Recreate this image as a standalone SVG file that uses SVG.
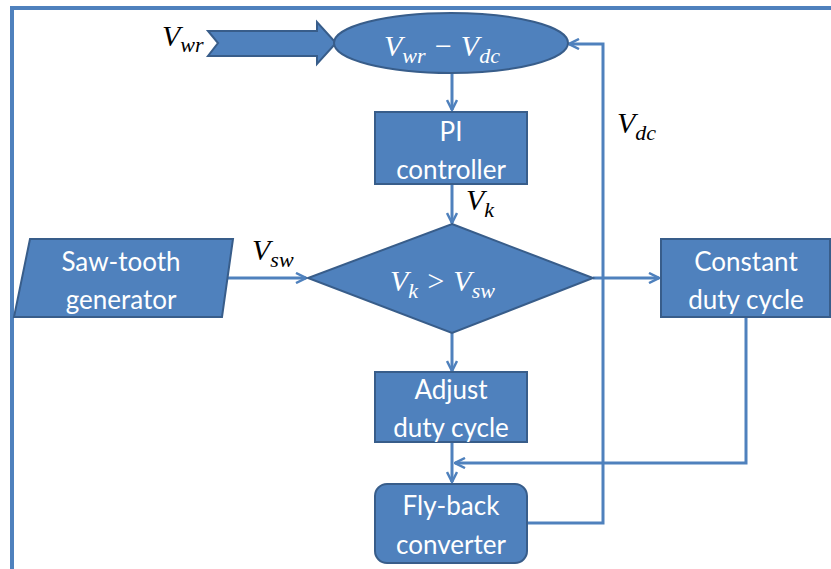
<svg xmlns="http://www.w3.org/2000/svg" width="831" height="569" viewBox="0 0 831 569">
<defs>
<style>
.shape{fill:#4F81BD;stroke:#385D8A;stroke-width:2}
.conn{fill:none;stroke:#4F81BD;stroke-width:3}
.lbl{font-family:Lato,"Open Sans",sans-serif;font-size:26px;fill:#fff;text-anchor:middle}
.m{font-family:"Liberation Serif","DejaVu Serif",serif;font-style:italic;font-size:30px}
.mw{fill:#fff}
.mb{fill:#000}
.sub{font-size:22px}
</style>
<marker id="ah" viewBox="0 0 12 12" refX="11" refY="6" markerWidth="12" markerHeight="12" markerUnits="userSpaceOnUse" orient="auto">
<path d="M1,1 L11,6 L1,11" fill="none" stroke="#4F81BD" stroke-width="2.5"/>
</marker>
</defs>
<rect width="831" height="569" fill="#fff"/>
<g id="frame">
<path d="M12,569 L12,8 L831,8" fill="none" stroke="#4F81BD" stroke-width="4"/>
</g>
<g id="connectors">
<path class="conn" d="M452,72 L452,110" marker-end="url(#ah)"/>
<path class="conn" d="M452,185 L452,223" marker-end="url(#ah)"/>
<path class="conn" d="M225,278 L306,278" marker-end="url(#ah)"/>
<path class="conn" d="M593,278 L659,278" marker-end="url(#ah)"/>
<path class="conn" d="M452,333 L452,371" marker-end="url(#ah)"/>
<path class="conn" d="M452,442 L452,482" marker-end="url(#ah)"/>
<path class="conn" d="M746,318 L746,463 L455,463" marker-end="url(#ah)"/>
<path class="conn" d="M527,523 L603,523 L603,44 L569,44" marker-end="url(#ah)"/>
</g>
<g id="input-arrow">
<path class="shape" d="M208,31 L317,31 L317,22 L336,43 L317,64 L317,56 L208,56 L218,43 Z"/>
<text class="m mb" x="162" y="46">V<tspan class="sub" dy="6">wr</tspan></text>
</g>
<g id="sum">
<ellipse class="shape" cx="451" cy="43" rx="117" ry="30"/>
<text class="m mw" x="384" y="56">V<tspan class="sub" dy="7">wr</tspan><tspan dy="-7"> − V</tspan><tspan class="sub" dy="7">dc</tspan></text>
</g>
<g id="pi">
<rect class="shape" x="375" y="112" width="152" height="72"/>
<text class="lbl" x="451" y="141">PI</text>
<text class="lbl" x="451" y="179">controller</text>
</g>
<g id="vk-label">
<text class="m mb" x="466" y="210">V<tspan class="sub" dy="7">k</tspan></text>
</g>
<g id="sawtooth">
<path class="shape" d="M30,239 L233,239 L222,317 L14,317 Z"/>
<text class="lbl" x="121" y="271">Saw-tooth</text>
<text class="lbl" x="121" y="309">generator</text>
</g>
<g id="vsw-label">
<text class="m mb" x="252" y="260">V<tspan class="sub" dy="7">sw</tspan></text>
</g>
<g id="compare">
<path class="shape" d="M452,224 L593,278 L452,333 L308,278 Z"/>
<text class="m mw" x="390" y="291">V<tspan class="sub" dy="7">k</tspan><tspan dy="-7"> &gt; V</tspan><tspan class="sub" dy="7">sw</tspan></text>
</g>
<g id="constant">
<rect class="shape" x="661" y="239" width="169" height="78"/>
<text class="lbl" x="746" y="271">Constant</text>
<text class="lbl" x="746" y="309">duty cycle</text>
</g>
<g id="adjust">
<rect class="shape" x="375" y="372" width="152" height="70"/>
<text class="lbl" x="451" y="399">Adjust</text>
<text class="lbl" x="451" y="437">duty cycle</text>
</g>
<g id="flyback">
<rect class="shape" x="375" y="484" width="152" height="79" rx="12"/>
<text class="lbl" x="451" y="515">Fly-back</text>
<text class="lbl" x="451" y="554">converter</text>
</g>
<g id="vdc-label">
<text class="m mb" x="617" y="133">V<tspan class="sub" dy="7">dc</tspan></text>
</g>
</svg>
